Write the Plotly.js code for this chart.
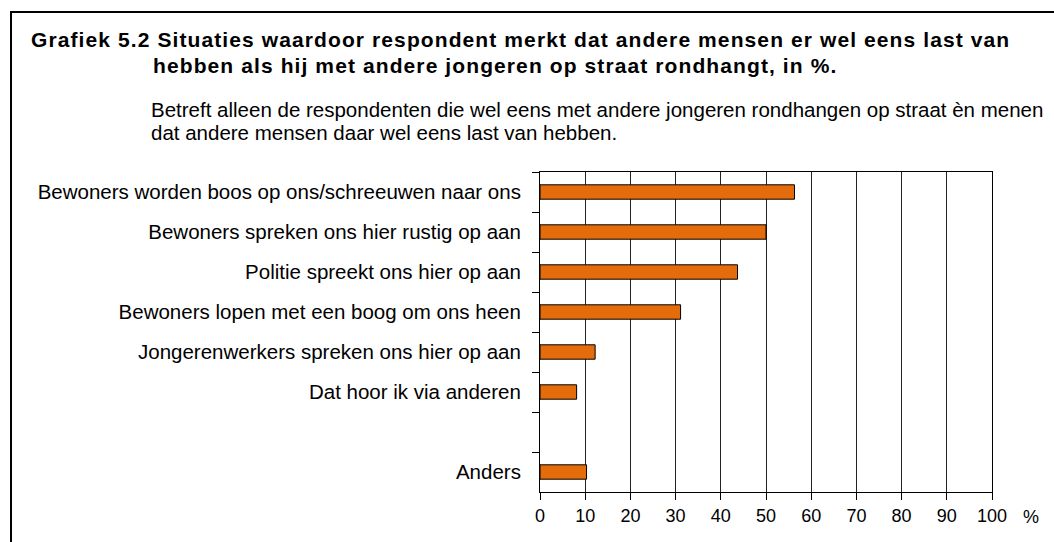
<!DOCTYPE html>
<html>
<head>
<meta charset="utf-8">
<script src="https://cdn.plot.ly/plotly-3.0.1.min.js"></script>
<style>html,body{margin:0;padding:0;background:#fff;}#chart{width:1054px;height:542px;}</style>
</head>
<body>
<div id="chart"></div>
<script>
const categories = [
  "Bewoners worden boos op ons/schreeuwen naar ons",
  "Bewoners spreken ons hier rustig op aan",
  "Politie spreekt ons hier op aan",
  "Bewoners lopen met een boog om ons heen",
  "Jongerenwerkers spreken ons hier op aan",
  "Dat hoor ik via anderen",
  " ",
  "Anders"
];
const values = [56.3, 50.0, 43.7, 31.1, 12.2, 8.1, null, 10.3];
const xTickValues = [0, 10, 20, 30, 40, 50, 60, 70, 80, 90, 100];
const xTickLabels = ["0", "10", "20", "30", "40", "50", "60", "70", "80", "90", "100"];
const titleLine1 = "Grafiek 5.2 Situaties waardoor respondent merkt dat andere mensen er wel eens last van";
const titleLine2 = "hebben als hij met andere jongeren op straat rondhangt, in %.";
const subLine1 = "Betreft alleen de respondenten die wel eens met andere jongeren rondhangen op straat èn menen";
const subLine2 = "dat andere mensen daar wel eens last van hebben.";
const unitLabel = "%";

const W = 1054, H = 542;
const M = {l: 540, r: 62, t: 172, b: 50};
const PW = W - M.l - M.r, PH = H - M.t - M.b;
const px = x => (x - M.l) / PW;
const py = y => (H - M.b - y) / PH;
const FONT = "Liberation Sans, Arial, sans-serif";

const trace = {
  type: "bar",
  orientation: "h",
  y: categories,
  x: values,
  width: 0.36,
  marker: {color: "#E46C0A", line: {color: "#000", width: 1}},
  hoverinfo: "x+y"
};

const ann = (text, x, y, size, bold, anchor, spacing) => {
  let t = text;
  if (spacing) t = '<span style="letter-spacing:' + spacing + 'px">' + t + '</span>';
  if (bold) t = "<b>" + t + "</b>";
  return {
    xref: "paper", yref: "paper", x: px(x), y: py(y),
    xanchor: anchor || "left", yanchor: "middle", showarrow: false,
    text: t,
    font: {family: FONT, size: size, color: "#000"}
  };
};

const layout = {
  width: W, height: H, autosize: false,
  margin: M,
  paper_bgcolor: "#fff", plot_bgcolor: "#fff",
  showlegend: false,
  font: {family: FONT, color: "#000"},
  xaxis: {
    range: [0, 100], tickmode: "array", tickvals: xTickValues, ticktext: xTickLabels,
    showgrid: true, gridcolor: "#222", gridwidth: 1,
    showline: true, linecolor: "#000", linewidth: 1, mirror: true,
    ticks: "outside", ticklen: 7, tickcolor: "#000",
    tickfont: {family: FONT, size: 18, color: "#000"},
    zeroline: false, fixedrange: true
  },
  yaxis: {
    type: "category", categoryorder: "array", categoryarray: categories,
    autorange: "reversed",
    tickson: "boundaries", ticks: "outside", ticklen: 7, tickcolor: "#000",
    showline: true, linecolor: "#000", linewidth: 1, mirror: true,
    showgrid: false, zeroline: false,
    tickfont: {family: FONT, size: 20.5, color: "#000"},
    ticklabelstandoff: 14, fixedrange: true
  },
  shapes: [{
    type: "rect", xref: "paper", yref: "paper",
    x0: px(11), x1: px(1080), y0: py(12), y1: py(570),
    line: {color: "#000", width: 2}, fillcolor: "rgba(0,0,0,0)", layer: "above"
  }],
  annotations: [
    ann(titleLine1, 29, 39, 21, true, "left", 1.1),
    ann(titleLine2, 151, 66, 21, true, "left", 1.1),
    ann(subLine1, 149, 109, 20.5, false),
    ann(subLine2, 149, 132, 20.5, false),
    ann(unitLabel, 1031, 517, 18, false, "center")
  ]
};

Plotly.newPlot("chart", [trace], layout, {displayModeBar: false, staticPlot: true});
</script>
</body>
</html>
